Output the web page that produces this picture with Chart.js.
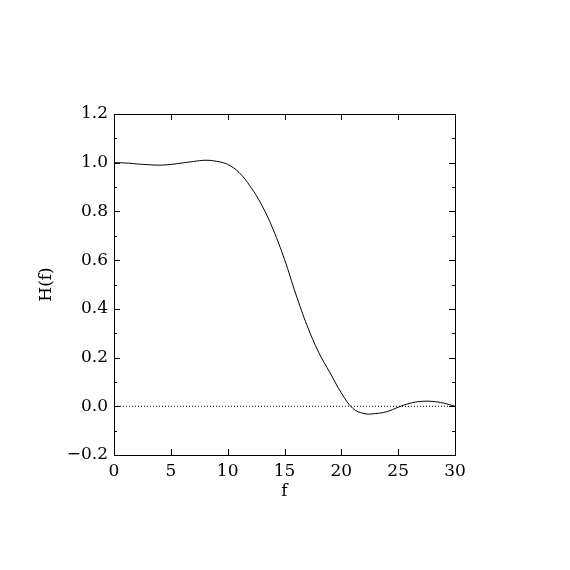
<!DOCTYPE html>
<html>
<head>
<meta charset="utf-8">
<script src="https://cdn.jsdelivr.net/npm/chart.js@4/dist/chart.umd.min.js"></script>
<style>
  html, body { margin: 0; padding: 0; background: #fff; }
  #wrap { width: 570px; height: 570px; }
</style>
</head>
<body>
<div id="wrap"><canvas id="hf"></canvas></div>
<script>
// response curve
const freq = [0, 1, 2, 3, 4, 5, 6, 7, 8, 9, 10, 11, 12, 13, 14, 15,
              16, 17, 18, 19, 20, 21, 22, 23, 24, 25, 26, 27, 28, 29, 30];
const response = [1.000, 0.999, 0.995, 0.992, 0.990, 0.993, 0.999, 1.005, 1.010, 1.006,
                  0.993, 0.960, 0.902, 0.826, 0.726, 0.603, 0.460, 0.330, 0.222, 0.138,
                  0.055, -0.008, -0.030, -0.030, -0.022, -0.004, 0.012, 0.020, 0.020, 0.013, 0.000];
const zeroLine = [0, 30];

const FONT = "'DejaVu Serif', serif";

// inward ticks on all four sides + frame + axis titles (pgplot look)
const frameTicks = {
  id: 'frameTicks',
  afterDraw(chart) {
    const { ctx, chartArea: a, scales: { x, y } } = chart;
    ctx.save();
    ctx.strokeStyle = '#000';
    ctx.lineWidth = 1;
    ctx.strokeRect(a.left + 0.5, a.top + 0.5, a.right - a.left, a.bottom - a.top);
    ctx.beginPath();
    x.ticks.forEach(t => {
      const px = Math.round(x.getPixelForValue(t.value)) + 0.5;
      ctx.moveTo(px, a.bottom); ctx.lineTo(px, a.bottom - 6);
      ctx.moveTo(px, a.top); ctx.lineTo(px, a.top + 6);
    });
    for (let k = -2; k <= 12; k++) {
      const len = k % 2 === 0 ? 6 : 3;
      const py = Math.round(y.getPixelForValue(k / 10)) + 0.5;
      ctx.moveTo(a.left, py); ctx.lineTo(a.left + len, py);
      ctx.moveTo(a.right, py); ctx.lineTo(a.right - len, py);
    }
    ctx.stroke();

    ctx.fillStyle = '#000';
    ctx.font = '17px ' + FONT;
    ctx.textAlign = 'center';
    ctx.textBaseline = 'middle';
    ctx.fillText('f', (a.left + a.right) / 2, 492);
    ctx.translate(47, (a.top + a.bottom) / 2);
    ctx.rotate(-Math.PI / 2);
    ctx.fillText('H(f)', 0, 0);
    ctx.restore();
  }
};

new Chart(document.getElementById('hf'), {
  type: 'line',
  data: {
    datasets: [
      {
        data: freq.map((f, i) => ({ x: f, y: response[i] })),
        borderColor: '#000',
        borderWidth: 1,
        pointRadius: 0,
        tension: 0.4,
        fill: false
      },
      {
        data: zeroLine.map(f => ({ x: f, y: 0 })),
        borderColor: '#000',
        borderWidth: 1,
        borderDash: [1, 2],
        pointRadius: 0,
        fill: false
      }
    ]
  },
  options: {
    responsive: true,
    maintainAspectRatio: false,
    animation: false,
    layout: { padding: { left: 0, top: 114, right: 115, bottom: 0 } },
    plugins: { legend: { display: false }, tooltip: { enabled: false } },
    scales: {
      x: {
        type: 'linear',
        min: 0, max: 30,
        grid: { display: false, drawTicks: false },
        border: { display: false },
        ticks: {
          stepSize: 5,
          color: '#000',
          padding: 6,
          maxRotation: 0,
          font: { family: FONT, size: 17 }
        },
        afterFit(scale) { scale.height = 115; }
      },
      y: {
        min: -0.2, max: 1.2,
        grid: { display: false, drawTicks: false },
        border: { display: false },
        ticks: {
          stepSize: 0.2,
          color: '#000',
          padding: 6,
          font: { family: FONT, size: 17 },
          callback: v => {
            const r = Math.round(v * 10) / 10;
            return (r < 0 ? '\u2212' : '') + Math.abs(r).toFixed(1);
          }
        },
        afterFit(scale) { scale.width = 114; }
      }
    }
  },
  plugins: [frameTicks]
});
</script>
</body>
</html>
